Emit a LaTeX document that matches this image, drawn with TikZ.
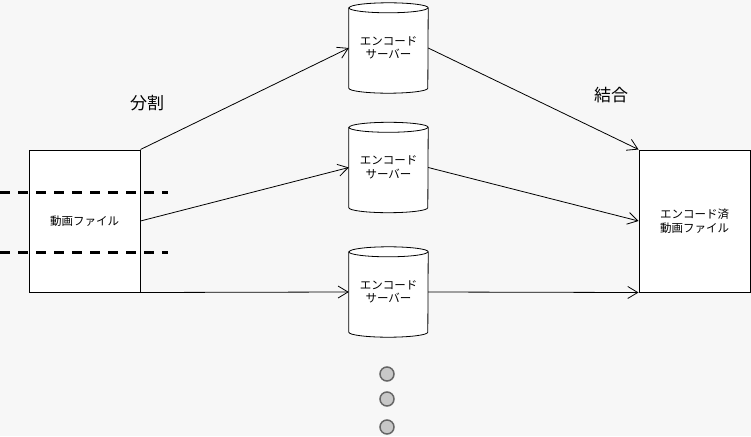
\documentclass[tikz,border=0pt]{standalone}
\usepackage{fontspec}
\setmainfont{Noto Sans CJK JP}
\usetikzlibrary{arrows.meta,backgrounds}
\definecolor{bg}{HTML}{F7F7F7}
\definecolor{dotfill}{HTML}{C8C8C8}
\definecolor{dotline}{HTML}{666666}
\tikzset{
  box/.style={draw=black,fill=white,line width=1pt,minimum width=111pt,minimum height=142pt,inner sep=0pt,align=center,font=\fontsize{11.5}{13.5}\selectfont},
  srv/.style={minimum width=79pt,minimum height=90pt,inner sep=0pt,align=center,font=\fontsize{11.5}{13.5}\selectfont},
  conn/.style={line width=0.8pt,-{Straight Barb[length=10pt,width=12pt,line width=0.8pt]}},
  cut/.style={line width=3pt,dash pattern=on 10pt off 8pt},
  lbl/.style={inner sep=0pt,font=\fontsize{17}{20}\selectfont},
  moredot/.style={circle,draw=dotline,fill=dotfill,line width=1.5pt,minimum size=14pt,inner sep=0pt}
}
\newcommand\cylframe[1]{%
  \filldraw[fill=white,draw=black,line width=0.8pt]
    ([yshift=-5pt]#1.north west) -- ([yshift=5pt]#1.south west)
    arc[start angle=180,end angle=360,x radius=39.5pt,y radius=5pt]
    -- ([yshift=-5pt]#1.north east)
    arc[start angle=0,end angle=180,x radius=39.5pt,y radius=5pt] -- cycle;
  \draw[line width=0.8pt] ([yshift=-5pt]#1.north west)
    arc[start angle=180,end angle=360,x radius=39.5pt,y radius=5pt];}
\begin{document}
\begin{tikzpicture}[x=1pt,y=-1pt]
\useasboundingbox (0,0) rectangle (751,436);
% nodes
\node[box] (src) at (84.5,221) {動画ファイル};
\node[box] (dst) at (694.5,221) {エンコード済\\動画ファイル};
\node[srv] (s1) at (388.5,48) {エンコード\\サーバー};
\node[srv] (s2) at (388.5,167.5) {エンコード\\サーバー};
\node[srv] (s3) at (388.5,292) {エンコード\\サーバー};
\begin{scope}[on background layer]
  \fill[bg] (0,0) rectangle (751,436);
  \cylframe{s1}
  \cylframe{s2}
  \cylframe{s3}
\end{scope}
% cut lines
\coordinate (c1a) at (0,192);
\coordinate (c1b) at (168,192);
\coordinate (c2a) at (0,252);
\coordinate (c2b) at (168,252);
\draw[cut] (c1a) -- (c1b);
\draw[cut] (c2a) -- (c2b);
% connectors
\draw[conn] (src.north east) -- (s1.west);
\draw[conn] (src.east) -- (s2.west);
\draw[conn] (src.south east) -- (s3.west);
\draw[conn] (s1.east) -- (dst.north west);
\draw[conn] (s2.east) -- (dst.west);
\draw[conn] (s3.east) -- (dst.south west);
% labels
\node[lbl] (split) at (147,103) {分割};
\node[lbl] (join) at (611,95) {結合};
% more dots
\node[moredot] (d1) at (387,374) {};
\node[moredot] (d2) at (387,399) {};
\node[moredot] (d3) at (387,427) {};
\end{tikzpicture}
\end{document}
